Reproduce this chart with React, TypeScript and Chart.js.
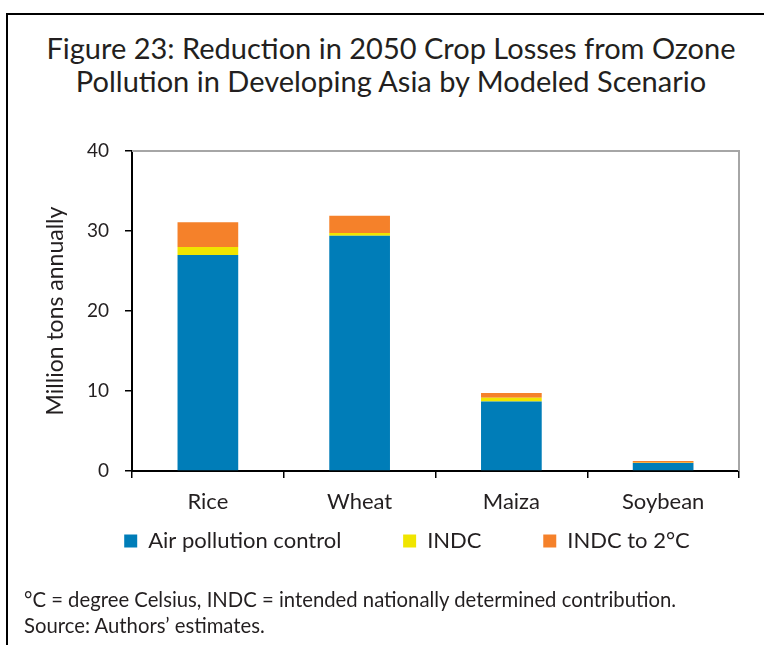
import React, { useEffect, useRef } from "react";
import { Chart, registerables } from "chart.js";

Chart.register(...registerables);

const categories = ["Rice", "Wheat", "Maiza", "Soybean"];
const airPollutionControl = [27.0, 29.4, 8.7, 1.0];
const indc = [1.0, 0.35, 0.45, 0.03];
const indcTo2C = [3.1, 2.15, 0.6, 0.22];
const yTicks = [0, 10, 20, 30, 40];
const seriesNames = ["Air pollution control", "INDC", "INDC to 2°C"];

const FONT = "Lato, 'Open Sans', sans-serif";
const TEXT = "#231f20";
const LEGEND_GAP = "\u2003\u2003\u2002\u2009";

const framePlugin = {
  id: "plotFrame",
  afterDraw(chart: any) {
    const { ctx, chartArea } = chart;
    ctx.save();
    ctx.strokeStyle = "#a6a6a6";
    ctx.lineWidth = 2;
    ctx.beginPath();
    ctx.moveTo(chartArea.left, chartArea.top);
    ctx.lineTo(chartArea.right, chartArea.top);
    ctx.lineTo(chartArea.right, chartArea.bottom);
    ctx.stroke();
    ctx.restore();
  },
};

export default function App() {
  const ref = useRef<HTMLCanvasElement | null>(null);

  useEffect(() => {
    if (!ref.current) return;
    const chart = new Chart(ref.current, {
      type: "bar",
      data: {
        labels: categories,
        datasets: [
          { label: seriesNames[0], data: airPollutionControl, backgroundColor: "#007db8", borderWidth: 0 },
          { label: seriesNames[1], data: indc, backgroundColor: "#f0e500", borderWidth: 0 },
          { label: seriesNames[2], data: indcTo2C, backgroundColor: "#f5812a", borderWidth: 0 },
        ],
      },
      options: {
        animation: false,
        responsive: false,
        maintainAspectRatio: false,
        layout: { padding: { left: 75, right: 25, top: 151, bottom: 83 } },
        datasets: { bar: { barPercentage: 0.4, categoryPercentage: 1.0 } },
        plugins: {
          tooltip: { enabled: false },
          title: { display: false },
          legend: {
            position: "bottom",
            align: "center",
            labels: {
              boxWidth: 13,
              boxHeight: 13,
              padding: 15,
              color: TEXT,
              font: { family: FONT, size: 22 },
              generateLabels: (c: any) => {
                const items = Chart.defaults.plugins.legend.labels.generateLabels(c);
                return items.map((it: any, i: number) => ({
                  ...it,
                  text: i < items.length - 1 ? it.text + LEGEND_GAP : it.text,
                }));
              },
            },
          },
        },
        scales: {
          x: {
            stacked: true,
            offset: true,
            afterFit: (s: any) => { s.height = 44; },
            border: { display: true, color: "#000", width: 2 },
            grid: { display: true, drawOnChartArea: false, drawTicks: true, tickLength: 7, color: "#000", lineWidth: 1.5, offset: true },
            ticks: { color: TEXT, padding: 11, font: { family: FONT, size: 22 } },
          },
          y: {
            stacked: true,
            min: 0,
            max: 40,
            afterFit: (s: any) => { s.width = 57; },
            afterBuildTicks: (s: any) => { s.ticks = yTicks.map((v) => ({ value: v })); },
            border: { display: true, color: "#000", width: 2 },
            grid: { display: true, drawOnChartArea: false, drawTicks: true, tickLength: 7, color: "#000", lineWidth: 1.5 },
            ticks: { color: TEXT, padding: 16, font: { family: FONT, size: 19 } },
            title: {
              display: true,
              text: "Million tons annually",
              color: TEXT,
              font: { family: FONT, size: 23 },
              padding: { top: -33, bottom: 0 },
            },
          },
        },
      },
      plugins: [framePlugin],
    });
    return () => chart.destroy();
  }, []);

  return (
    <div style={{ position: "absolute", left: 0, top: 0, width: 764, height: 645, overflow: "hidden", background: "#fff" }}>
      <div style={{ position: "absolute", left: 6, top: 13, width: 900, height: 800, borderLeft: "2px solid #000", borderTop: "2px solid #000" }} />
      <div
        style={{
          position: "absolute",
          left: 0,
          top: 31,
          width: 782,
          textAlign: "center",
          fontFamily: FONT,
          fontSize: 29,
          lineHeight: "33px",
          color: TEXT,
          whiteSpace: "nowrap",
        }}
      >
        Figure 23: Reduction in 2050 Crop Losses from Ozone
        <br />
        Pollution in Developing Asia by Modeled Scenario
      </div>
      <canvas ref={ref} width={764} height={645} style={{ position: "absolute", left: 0, top: 0, width: 764, height: 645 }} />
      <div
        style={{
          position: "absolute",
          left: 24,
          top: 586,
          fontFamily: FONT,
          fontSize: 20.3,
          lineHeight: "26px",
          color: TEXT,
          whiteSpace: "nowrap",
        }}
      >
        °C = degree Celsius, INDC = intended nationally determined contribution.
        <br />
        Source: Authors’ estimates.
      </div>
    </div>
  );
}
